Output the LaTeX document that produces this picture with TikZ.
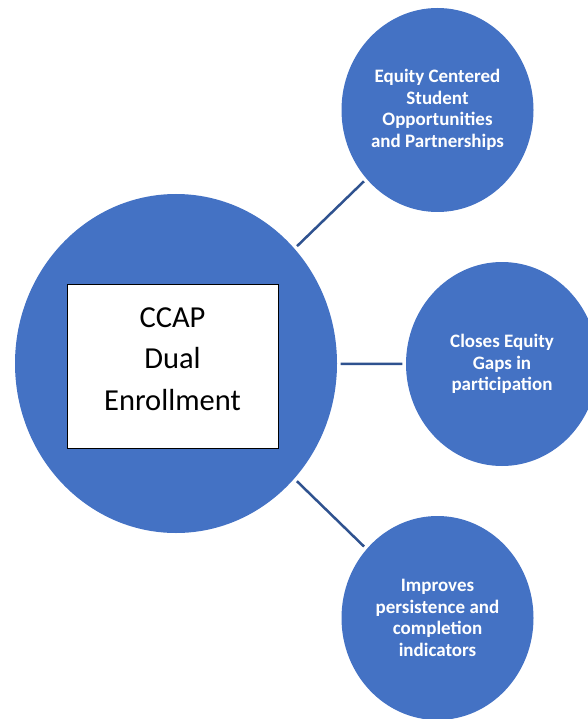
\documentclass[tikz,border=0pt]{standalone}
\usepackage{fontspec}
\setmainfont{Carlito}
\usetikzlibrary{shapes.geometric}
\definecolor{ccapblue}{RGB}{68,114,196}
\definecolor{ccapline}{RGB}{47,82,143}

\begin{document}
\begin{tikzpicture}[x=1pt,y=-1pt,
  bubble/.style={ellipse,fill=ccapblue,inner sep=0pt,minimum width=192pt,minimum height=204pt,
    text=white,align=center,font=\bfseries\fontsize{19}{21.5}\selectfont},
  link/.style={draw=ccapline,line width=2.5pt,shorten <=3.5pt,shorten >=3.5pt}]
\useasboundingbox (0,0) rectangle (587,719);
\node [ellipse,fill=ccapblue,inner sep=0pt,minimum width=322pt,minimum height=339pt] (dual) at (176,363.5) {};
\node [draw=black,fill=white,line width=0.8pt,minimum width=211pt,minimum height=164pt] (frame) at (172.5,366) {};
\node [align=center,font=\fontsize{30.5}{41.5}\selectfont] (ccap) at ([yshift=7pt]frame) {CCAP\\Dual\\Enrollment};

\node [bubble] (equity) at (437.5,110) {Equity Centered\\Student\\Opportunities\\and Partnerships};
\node [bubble] (gaps) at (502,364) {Closes Equity\\Gaps in\\participation};
\node [bubble] (persist) at (437.5,618) {Improves\\persistence and\\completion\\indicators};

\draw [link] (dual) -- (equity);
\draw [link] (dual) -- (gaps);
\draw [link] (dual) -- (persist);
\end{tikzpicture}
\end{document}
